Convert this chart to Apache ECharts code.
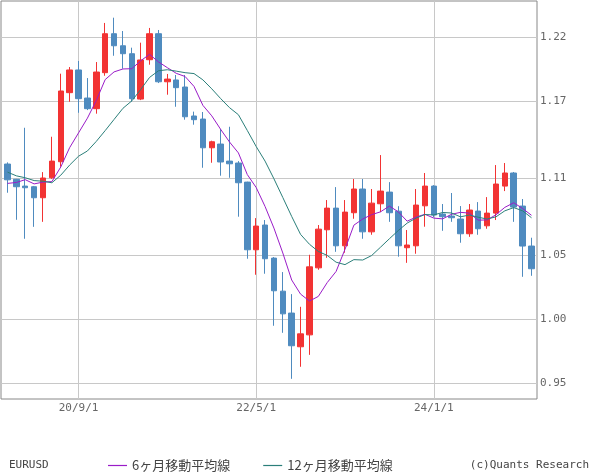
<!DOCTYPE html>
<html><head><meta charset="utf-8">
<script src="https://cdn.jsdelivr.net/npm/echarts@6/dist/echarts.min.js"></script>
<style>html,body{margin:0;padding:0;background:#fff}#c{width:600px;height:475px}</style>
</head><body><div id="c"></div>
<script>
const months = [
 '20/1/1','20/2/1','20/3/1','20/4/1','20/5/1','20/6/1','20/7/1','20/8/1','20/9/1','20/10/1','20/11/1','20/12/1',
 '21/1/1','21/2/1','21/3/1','21/4/1','21/5/1','21/6/1','21/7/1','21/8/1','21/9/1','21/10/1','21/11/1','21/12/1',
 '22/1/1','22/2/1','22/3/1','22/4/1','22/5/1','22/6/1','22/7/1','22/8/1','22/9/1','22/10/1','22/11/1','22/12/1',
 '23/1/1','23/2/1','23/3/1','23/4/1','23/5/1','23/6/1','23/7/1','23/8/1','23/9/1','23/10/1','23/11/1','23/12/1',
 '24/1/1','24/2/1','24/3/1','24/4/1','24/5/1','24/6/1','24/7/1','24/8/1','24/9/1','24/10/1','24/11/1','24/12/1'
];
const openV = [
 1.1211,1.1092,1.1039,1.1034,1.0948,1.1104,1.1229,1.1768,1.1945,1.1726,1.1643,1.1924,
 1.2228,1.2134,1.2072,1.1718,1.2025,1.2228,1.1853,1.1867,1.1812,1.1586,1.1562,1.1338,
 1.1367,1.1234,1.1219,1.1070,1.0542,1.0735,1.0477,1.0219,1.0048,0.9785,0.9878,1.0401,
 1.0698,1.0867,1.0573,1.0831,1.1016,1.0682,1.0901,1.0992,1.0843,1.0558,1.0573,1.0885,
 1.1039,1.0821,1.0805,1.0782,1.0667,1.0844,1.0729,1.0828,1.1039,1.1141,1.0883,1.0571
];
const closeV = [
 1.1088,1.1034,1.1026,1.0948,1.1102,1.1234,1.1781,1.1945,1.1721,1.1643,1.1929,1.2228,
 1.2134,1.2072,1.1721,1.2023,1.2228,1.1853,1.1874,1.1807,1.1580,1.1557,1.1338,1.1385,
 1.1227,1.1213,1.1065,1.0542,1.0727,1.0472,1.0222,1.0042,0.9793,0.9886,1.0409,1.0703,
 1.0867,1.0573,1.0836,1.1016,1.0682,1.0906,1.1000,1.0831,1.0573,1.0579,1.0891,1.1039,
 1.0813,1.0800,1.0792,1.0667,1.0852,1.0706,1.0828,1.1055,1.1141,1.0875,1.0571,1.0394
];
const lowV = [
 1.0987,1.0776,1.0628,1.0721,1.0760,1.1095,1.1190,1.1697,1.1611,1.1632,1.1604,1.1900,
 1.2056,1.1955,1.1697,1.1710,1.1986,1.1843,1.1752,1.1658,1.1557,1.1518,1.1182,1.1221,
 1.1120,1.1104,1.0800,1.0472,1.0347,1.0355,0.9949,0.9894,0.9535,0.9629,0.9722,1.0386,
 1.0479,1.0526,1.0519,1.0784,1.0628,1.0659,1.0836,1.0760,1.0488,1.0440,1.0511,1.0722,
 1.0795,1.0690,1.0760,1.0597,1.0643,1.0659,1.0706,1.0774,1.1000,1.0760,1.0331,1.0339
];
const highV = [
 1.1224,1.1095,1.1494,1.1040,1.1148,1.1424,1.1916,1.1968,1.2015,1.1882,1.2007,1.2312,
 1.2353,1.2249,1.2119,1.2158,1.2273,1.2257,1.1914,1.1906,1.1906,1.1620,1.1617,1.1393,
 1.1484,1.1502,1.1234,1.1073,1.0789,1.0774,1.0485,1.0368,1.0196,1.0097,1.0503,1.0735,
 1.0930,1.1031,1.0930,1.1094,1.1094,1.1016,1.1281,1.1070,1.0882,1.0696,1.1016,1.1141,
 1.1046,1.0899,1.0985,1.0883,1.0899,1.0914,1.0953,1.1203,1.1219,1.1149,1.0938,1.0636
];
const ma6 = [
 1.1060,1.1067,1.1089,1.1056,1.1070,1.1074,1.1188,1.1339,1.1454,1.1569,1.1707,1.1870,
 1.1930,1.1953,1.1955,1.2017,1.2067,1.2008,1.1963,1.1919,1.1894,1.1817,1.1669,1.1587,
 1.1482,1.1383,1.1298,1.1129,1.1028,1.0880,1.0711,1.0517,1.0306,1.0196,1.0142,1.0178,
 1.0286,1.0373,1.0545,1.0734,1.0782,1.0816,1.0838,1.0883,1.0838,1.0765,1.0797,1.0819,
 1.0789,1.0783,1.0819,1.0834,1.0828,1.0773,1.0775,1.0815,1.0873,1.0909,1.0864,1.0811
];
const ma12 = [
 1.1148,1.1119,1.1104,1.1082,1.1077,1.1065,1.1124,1.1203,1.1272,1.1313,1.1388,1.1472,
 1.1559,1.1646,1.1704,1.1793,1.1887,1.1939,1.1947,1.1936,1.1924,1.1917,1.1868,1.1798,
 1.1722,1.1651,1.1596,1.1473,1.1348,1.1234,1.1096,1.0950,1.0802,1.0662,1.0585,1.0529,
 1.0498,1.0445,1.0426,1.0465,1.0462,1.0497,1.0562,1.0628,1.0692,1.0750,1.0789,1.0817,
 1.0814,1.0833,1.0829,1.0799,1.0813,1.0796,1.0782,1.0799,1.0846,1.0871,1.0846,1.0792
];
const xTickLabels = ['20/9/1','22/5/1','24/1/1'];
const yTicks = [0.95, 1.00, 1.05, 1.11, 1.17, 1.22];

const xTickIdx = xTickLabels.map(l => months.indexOf(l));
const candles = months.map((m, i) => [i, openV[i], closeV[i], lowV[i], highV[i]]);
const ma6Data = ma6.map((v, i) => [i, v]);
const ma12Data = ma12.map((v, i) => [i, v]);

const RED = '#f23333', BLUE = '#4f8bbf', PURPLE = '#9a1cc8', TEAL = '#2b7f7a';
const mono = 'DejaVu Sans Mono';

const chart = echarts.init(document.getElementById('c'), null, {renderer: 'canvas'});
chart.setOption({
  animation: false,
  backgroundColor: '#fff',
  title: [
    {text: 'EURUSD', left: 9, top: 460, padding: 0,
     textStyle: {fontFamily: mono, fontSize: 11, fontWeight: 'normal', color: '#444'}},
    {text: '(c)Quants Research', right: 11, top: 460, padding: 0,
     textStyle: {fontFamily: mono, fontSize: 11, fontWeight: 'normal', color: '#444'}}
  ],
  legend: {
    data: ['6ヶ月移動平均線', '12ヶ月移動平均線'],
    left: 108, top: 459, padding: 0, icon: 'rect',
    itemWidth: 19, itemHeight: 1.2, itemGap: 33,
    textStyle: {fontFamily: 'Noto Sans CJK JP', fontSize: 13, color: '#444'}
  },
  grid: {left: 1, top: 1, right: 63, bottom: 76, show: true, borderColor: '#888', borderWidth: 1},
  xAxis: {
    type: 'value', min: -0.73, max: 59.62,
    axisLine: {show: false},
    axisTick: {show: false, customValues: xTickIdx},
    axisLabel: {customValues: xTickIdx, formatter: v => months[Math.round(v)],
      color: '#666', fontFamily: mono, fontSize: 11, margin: 4},
    splitLine: {show: true, lineStyle: {color: '#c8c8c8', width: 1}}
  },
  yAxis: {
    type: 'value', position: 'right', min: 0.93775, max: 1.24833,
    axisLine: {show: false},
    axisTick: {show: false, customValues: yTicks},
    axisLabel: {customValues: yTicks, formatter: v => v.toFixed(2),
      color: '#666', fontFamily: mono, fontSize: 11, margin: 3, padding: [4, 0, 0, 0]},
    splitLine: {show: true, lineStyle: {color: '#c8c8c8', width: 1}}
  },
  series: [
    {type: 'candlestick', data: candles, barWidth: 6,
     itemStyle: {color: RED, color0: BLUE, borderColor: RED, borderColor0: BLUE, borderWidth: 1}},
    {name: '6ヶ月移動平均線', type: 'line', data: ma6Data, showSymbol: false, symbol: 'none',
     color: PURPLE, lineStyle: {color: PURPLE, width: 1}, z: 3},
    {name: '12ヶ月移動平均線', type: 'line', data: ma12Data, showSymbol: false, symbol: 'none',
     color: TEAL, lineStyle: {color: TEAL, width: 1}, z: 3}
  ]
});
</script>
</body></html>
